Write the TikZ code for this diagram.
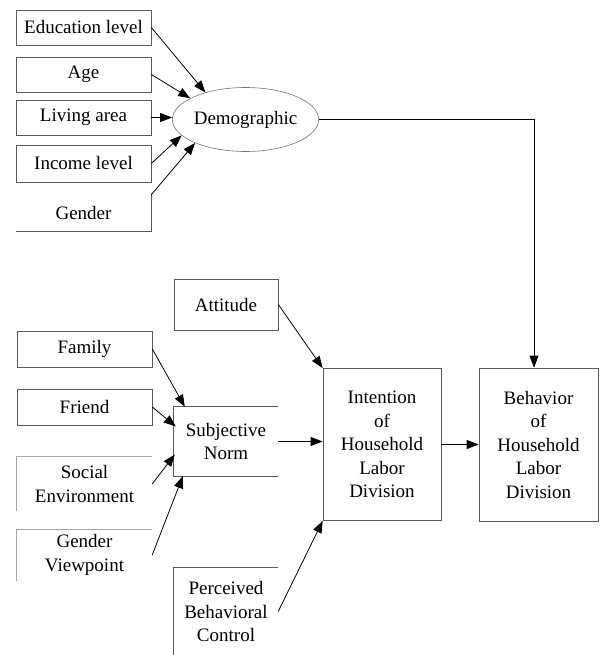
\documentclass[tikz,border=0pt]{standalone}
\usepackage{fontspec}
\setmainfont{Liberation Serif}
\newfontfamily\tnrfont{Liberation Serif}
\usetikzlibrary{arrows.meta,shapes.geometric}
\begin{document}
\begin{tikzpicture}[x=1pt,y=-1pt,
  every node/.style={font=\tnrfont\fontsize{19}{23.5}\selectfont, inner sep=0pt, align=center},
  box/.style={draw=black!65, line width=0.7pt, minimum width=#1},
  box/.default=135pt,
  edge/.style={draw=black!65, line width=0.7pt},
  arr/.style={draw=black, line width=0.8pt, -{Triangle[length=12pt,width=9pt]}},
  ell/.style={ellipse, draw=black!55, line width=0.6pt, minimum width=115pt, minimum height=64pt}]
\useasboundingbox (0,0) rectangle (599,655);

% demographic inputs
\node[box, minimum height=35pt] (edu) at (83.5,27.5) {Education level};
\node[box, minimum height=35pt] (age) at (83.5,74.5) {Age};
\node[box, minimum height=35pt] (liv) at (83.5,117.5) {Living area};
\node[box, minimum height=37pt] (inc) at (83.5,163.5) {Income level};
\node[minimum width=135pt, minimum height=36pt] (gen) at (83.5,213) {Gender};
\draw[edge] (gen.north east) -- (gen.south east) -- (gen.south west);

\node[ell] (demo) at (245.5,119.5) {Demographic};

% subjective norm inputs
\node[box, minimum height=36pt] (fam) at (84.5,349) {Family};
\node[box, minimum height=36pt] (fri) at (84.5,407) {Friend};
\node[minimum width=135pt, minimum height=54pt] (soc) at (84.5,484) {Social\\Environment};
\draw[edge, draw=black!35] (soc.south west) -- (soc.north west) -- (soc.north east);
\node[minimum width=135pt, minimum height=51pt] (gvp) at (84.5,555) {Gender\\Viewpoint};
\draw[edge, draw=black!35] (gvp.south west) -- (gvp.north west) -- (gvp.north east);

% TPB constructs
\node[box=104pt, minimum height=51pt] (att) at (226,304.5) {Attitude};
\node[minimum width=104pt, minimum height=69pt] (sn) at (226,441.5) {Subjective\\Norm};
\draw[edge] (sn.north east) -- (sn.north west) -- (sn.south west) -- (sn.south east);
\node[minimum width=104pt, minimum height=87pt] (pbc) at (226,611.5) {Perceived\\Behavioral\\Control};
\draw[edge] (pbc.south west) -- (pbc.north west) -- (pbc.north east);

\node[box=118pt, minimum height=152pt] (int) at (382,444.5) {Intention\\of\\Household\\Labor\\Division};
\node[box=119pt, minimum height=153pt] (beh) at (538.5,444.5) {Behavior\\of\\Household\\Labor\\Division};

% arrows into Demographic
\draw[arr] (edu.east) -- (demo.146);
\draw[arr] (age.east) -- (demo.159);
\draw[arr] (liv.east) -- (liv.east -| demo.west);
\draw[arr] (inc.east) -- (demo.194);
\draw[arr] (gen.north east) -- (demo.205);

% Demographic to Behavior
\draw[arr] (demo.east) -| ([xshift=-4.5pt]beh.north);

% arrows into Subjective Norm
\draw[arr] (fam.east) -- ([xshift=11pt]sn.north west);
\draw[arr] (fri.east) -- ([xshift=2pt,yshift=15pt]sn.west);
\draw[arr] (soc.east) -- ([xshift=1pt,yshift=-13pt]sn.west);
\draw[arr] (gvp.east) -- ([xshift=9pt]sn.south west);

% arrows into Intention
\draw[arr] (att.east) -- (int.north west);
\draw[arr] (sn.east) -- (sn.east -| int.west);
\draw[arr] (pbc.east) -- (int.south west);

% Intention to Behavior
\draw[arr] (int.east) -- (beh.west);
\end{tikzpicture}
\end{document}
